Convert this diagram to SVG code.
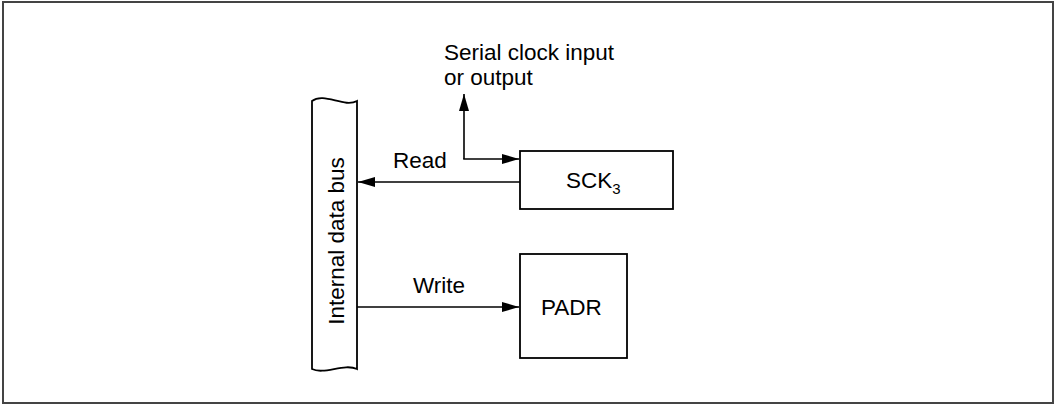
<svg xmlns="http://www.w3.org/2000/svg" width="1055" height="407" viewBox="0 0 1055 407">
<style>
text{font-family:"Liberation Sans",Arial,sans-serif;font-size:22.5px;fill:#000}
.box{fill:#fff;stroke:#000;stroke-width:1.8}
.ln{fill:none;stroke:#000;stroke-width:1.6}
</style>
<defs>
<marker id="ah" markerWidth="17" markerHeight="10" refX="17" refY="5" orient="auto" markerUnits="userSpaceOnUse">
<path d="M0,0 L17,5 L0,10 Z" fill="#000"/>
</marker>
</defs>
<rect x="3" y="2" width="1050" height="401" fill="#fff" stroke="#444" stroke-width="2"/>
<g id="bus">
<path class="box" d="M312,101 C324,92 344,108 357,101 L357,369 C344,363 324,375 312,369 Z"/>
<text transform="translate(344,241) rotate(-90)" text-anchor="middle" font-size="23">Internal data bus</text>
</g>
<g id="sck3">
<rect class="box" x="520" y="151" width="153" height="58"/>
<text x="566" y="188">SCK<tspan font-size="15" dy="6">3</tspan></text>
</g>
<g id="padr">
<rect class="box" x="520" y="254" width="107" height="104"/>
<text x="541" y="315">PADR</text>
</g>
<g id="serial-label">
<text x="444" y="60">Serial clock input</text>
<text x="444" y="85">or output</text>
</g>
<g id="connectors">
<path class="ln" d="M520,182 L358,182" marker-end="url(#ah)"/>
<text x="393" y="168">Read</text>
<path class="ln" d="M464,159 L464,94" marker-end="url(#ah)"/>
<path class="ln" d="M463.2,159 L519,159" marker-end="url(#ah)"/>
<path class="ln" d="M357,307 L519,307" marker-end="url(#ah)"/>
<text x="413" y="293">Write</text>
</g>
</svg>
